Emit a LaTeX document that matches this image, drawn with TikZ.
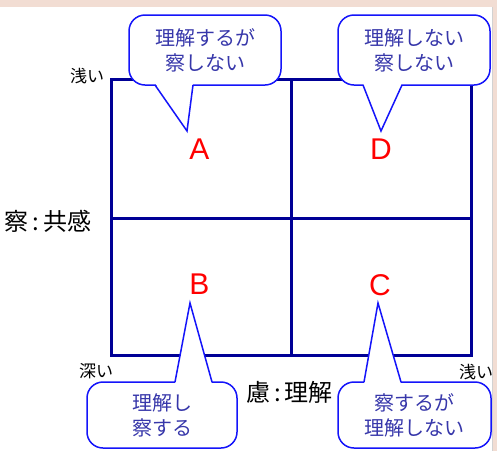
\documentclass[tikz,border=0pt]{standalone}
\usepackage{fontspec}
\setmainfont{Liberation Sans}
\newfontfamily\jp{Noto Sans CJK JP}
\definecolor{gridblue}{RGB}{0,0,150}
\definecolor{callblue}{RGB}{20,20,250}
\definecolor{calltext}{RGB}{55,55,170}
\definecolor{pinkband}{RGB}{242,221,211}
\begin{document}
\begin{tikzpicture}[x=1pt,y=-1pt,
  callout/.style={draw=callblue, line width=1.5pt, fill=white, rounded corners=16pt,
    inner sep=0pt, font=\jp\fontsize{20}{25}\selectfont, text=calltext, align=center},
  pointerfill/.style={fill=white},
  pointerline/.style={draw=callblue, line width=1.5pt, line join=miter},
  gridline/.style={draw=gridblue, line width=3pt},
  letter/.style={font=\fontsize{30}{30}\selectfont, text=red, inner sep=0pt},
  axislabel/.style={font=\jp\fontsize{24}{24}\selectfont, inner sep=0pt},
  depthlabel/.style={font=\jp\fontsize{17}{17}\selectfont, inner sep=0pt}]
\useasboundingbox (0,0) rectangle (497,451);
\fill[white] (0,0) rectangle (497,451);
\fill[pinkband] (0,0) rectangle (497,7);
\fill[pinkband] (493,7) rectangle (497,451);
\draw[gray!35, line width=0.8pt] (492.5,7) -- (492.5,451);

% grid
\draw[gridline] (111,79) rectangle (471,355);
\draw[gridline] (291,79) -- (291,355);
\draw[gridline] (111,218) -- (471,218);

% quadrant letters
\node[letter] (A) at (199.5,149) {A};
\node[letter] (D) at (381,149) {D};
\node[letter] (B) at (199.5,284.5) {B};
\node[letter] (C) at (380,285) {C};

% axis labels
\node[axislabel] (vlabel) at (48,221) {察\,:\,共感};
\node[axislabel] (hlabel) at (289.5,392) {慮\,:\,理解};
\node[depthlabel] (shallowtop) at (87,76) {浅い};
\node[depthlabel] (deep) at (96,371) {深い};
\node[depthlabel] (shallowright) at (476,372) {浅い};

% callouts
\node[callout, minimum width=152pt, minimum height=70pt] (cA) at (205,50) {理解するが\\察しない};
\node[callout, minimum width=152pt, minimum height=70pt] (cD) at (414,50) {理解しない\\察しない};
\node[callout, minimum width=150pt, minimum height=66pt] (cB) at (162,415) {理解し\\察する};
\node[callout, minimum width=153pt, minimum height=66pt] (cC) at (414.5,415) {察するが\\理解しない};

% pointers
\coordinate (tA) at (187,131);
\coordinate (tD) at (381,131);
\coordinate (tB) at (190,303);
\coordinate (tC) at (378,303);

\fill[pointerfill] (155,83) -- (tA) -- (193,83) -- cycle;
\draw[pointerline] (155,85) -- (tA) -- (193,85);
\fill[pointerfill] (363,83) -- (tD) -- (402,83) -- cycle;
\draw[pointerline] (363,85) -- (tD) -- (402,85);
\fill[pointerfill] (175,384) -- (tB) -- (212,384) -- cycle;
\draw[pointerline] (175,382) -- (tB) -- (212,382);
\fill[pointerfill] (364,384) -- (tC) -- (401,384) -- cycle;
\draw[pointerline] (364,382) -- (tC) -- (401,382);
\end{tikzpicture}
\end{document}
